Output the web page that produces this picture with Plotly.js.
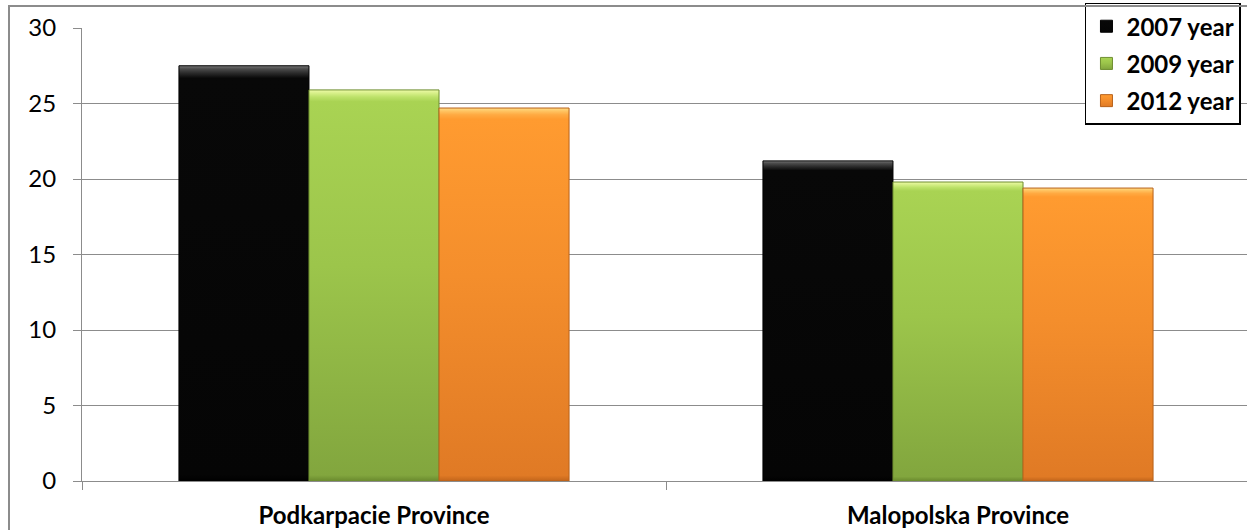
<!DOCTYPE html>
<html>
<head>
<meta charset="utf-8">
<script src="https://cdn.plot.ly/plotly-3.0.1.min.js"></script>
<style>
  html, body { margin: 0; padding: 0; overflow: hidden; background: #fff; }
  #wrap { position: relative; width: 1247px; height: 530px; overflow: hidden; }
  #chart { position: absolute; left: 0; top: 0; width: 1250px; height: 530px; }
  #frame { position: absolute; left: 8px; top: 5px; width: 1260px; height: 560px;
           border-left: 2px solid #8c8c8c; border-top: 2px solid #8c8c8c; pointer-events: none; }
</style>
</head>
<body>
<div id="wrap">
  <div id="chart"></div>
  <div id="frame"></div>
</div>
<script>
// Provinces on the category axis
const categories = ['Podkarpacie Province', 'Malopolska Province'];

// Values per survey year
const values2007 = [27.5, 21.2];
const values2009 = [25.9, 19.8];
const values2012 = [24.7, 19.4];

const seriesNames = ['2007 year', '2009 year', '2012 year'];
const yTicks = [0, 5, 10, 15, 20, 25, 30];

// Bar styling: flat fallback colour, edge colour, and vertical gradient stops
const styles = [
  { fill: '#060606', edge: '#000000',
    stops: [[0, '#777777'], [0.008, '#4a4a4a'], [0.018, '#2a2a2a'], [0.03, '#080808'], [0.985, '#050505'], [1, '#000000']] },
  { fill: '#a6cf50', edge: '#6e8e30',
    stops: [[0, '#eefaa8'], [0.008, '#d8f08a'], [0.018, '#bde26a'], [0.03, '#a9d353'], [0.45, '#9cc54b'], [0.985, '#82a63e'], [1, '#6a8a2e']] },
  { fill: '#f9952f', edge: '#b8621a',
    stops: [[0, '#ffde8a'], [0.008, '#ffc462'], [0.018, '#ffaa42'], [0.03, '#ff9b30'], [0.45, '#f48e2c'], [0.985, '#e07a25'], [1, '#c2651b']] }
];

const seriesValues = [values2007, values2009, values2012];

const traces = seriesValues.map((vals, i) => ({
  type: 'bar',
  name: seriesNames[i],
  legendgroup: 'g' + i,
  x: categories,
  y: vals,
  marker: { color: styles[i].fill, line: { color: styles[i].edge, width: 1 } },
  hoverinfo: 'x+y'
}));

const font = 'Lato, "Open Sans", sans-serif';

const layout = {
  width: 1250,
  height: 530,
  margin: { l: 82, r: 0, t: 28, b: 49, pad: 0 },
  paper_bgcolor: '#ffffff',
  plot_bgcolor: '#ffffff',
  barmode: 'group',
  bargap: 0.332,
  bargroupgap: 0,
  font: { family: font, color: '#000000', size: 24 },
  xaxis: {
    type: 'category',
    tickson: 'boundaries',
    ticks: 'outside',
    ticklen: 8,
    tickcolor: '#8c8c8c',
    tickwidth: 1,
    showline: true,
    linecolor: '#8c8c8c',
    linewidth: 1,
    showgrid: false,
    ticklabelstandoff: 13,
    tickfont: { family: font, size: 24, color: '#000000', weight: 'bold' },
    fixedrange: true
  },
  yaxis: {
    range: [0, 30],
    tickmode: 'array',
    tickvals: yTicks,
    ticktext: yTicks.map(String),
    ticks: 'outside',
    ticklen: 8,
    tickcolor: '#8c8c8c',
    tickwidth: 1,
    showline: true,
    linecolor: '#8c8c8c',
    linewidth: 1,
    showgrid: true,
    gridcolor: '#8c8c8c',
    gridwidth: 1,
    zeroline: false,
    ticklabelstandoff: 12,
    tickfont: { family: font, size: 24, color: '#000000' },
    fixedrange: true
  },
  legend: {
    x: 0.8587,
    xanchor: 'left',
    y: 1.056,
    yanchor: 'top',
    bgcolor: '#ffffff',
    bordercolor: '#000000',
    borderwidth: 1.5,
    tracegroupgap: 3,
    traceorder: 'grouped',
    font: { family: font, size: 24, color: '#000000', weight: 'bold' }
  },
  showlegend: true
};

// Adds vertical gradients to the rendered bars and legend swatches
function applyGradients(gd) {
  const svg = gd.querySelector('svg.main-svg');
  if (!svg) return;
  const ns = 'http://www.w3.org/2000/svg';
  let defs = svg.querySelector('defs#bar-grads');
  if (!defs) {
    defs = document.createElementNS(ns, 'defs');
    defs.setAttribute('id', 'bar-grads');
    svg.insertBefore(defs, svg.firstChild);
    styles.forEach((s, i) => {
      const g = document.createElementNS(ns, 'linearGradient');
      g.setAttribute('id', 'barGrad' + i);
      g.setAttribute('x1', '0'); g.setAttribute('y1', '0');
      g.setAttribute('x2', '0'); g.setAttribute('y2', '1');
      s.stops.forEach(([off, col]) => {
        const st = document.createElementNS(ns, 'stop');
        st.setAttribute('offset', off);
        st.setAttribute('stop-color', col);
        g.appendChild(st);
      });
      defs.appendChild(g);
    });
  }
  gd.querySelectorAll('.barlayer .trace').forEach((tr, i) => {
    tr.querySelectorAll('.point path').forEach(p => { p.style.fill = 'url(#barGrad' + i + ')'; });
  });
  gd.querySelectorAll('.legend .traces').forEach((tr, i) => {
    tr.querySelectorAll('.legendpoints path').forEach(p => { p.style.fill = 'url(#barGrad' + i + ')'; });
  });
}

const gd = document.getElementById('chart');
Plotly.newPlot(gd, traces, layout, { displayModeBar: false, staticPlot: true }).then(() => {
  applyGradients(gd);
});
</script>
</body>
</html>
